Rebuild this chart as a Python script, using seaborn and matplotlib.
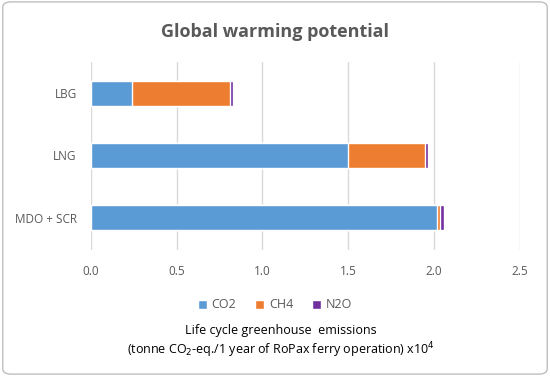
import numpy as np
import pandas as pd
import matplotlib.pyplot as plt
import seaborn as sns
from matplotlib.patches import FancyBboxPatch

# values in tonne CO2-eq (x10^4) per year
fuels = ["LBG", "LNG", "MDO + SCR"]
co2 = [0.24, 1.50, 2.02]
ch4 = [0.57, 0.45, 0.015]
n2o = [0.017, 0.017, 0.025]
gases = ["CO2", "CH4", "N2O"]
colors = ["#5B9BD5", "#ED7D31", "#7030A0"]
xticks = [0.0, 0.5, 1.0, 1.5, 2.0, 2.5]

sns.set_theme(style="white")
plt.rcParams["font.family"] = ["Open Sans", "DejaVu Sans"]
TXT = "#595959"

df = pd.DataFrame({"fuel": fuels, "CO2": co2, "CH4": ch4, "N2O": n2o})
cum = df[gases].cumsum(axis=1)

fig = plt.figure(figsize=(5.5, 3.76), dpi=100)
ax = fig.add_axes([0.165, 0.335, 0.78, 0.5])

# stacked bars: draw the cumulative totals from the largest down
for g, c in reversed(list(zip(gases, colors))):
    sns.barplot(x=cum[g], y=df["fuel"], color=c, orient="h", width=0.4,
                ax=ax, saturation=1, label=g, order=fuels)

ax.set_xlim(0, 2.5)
ax.set_ylim(2.52, -0.5)
ax.set_xticks(xticks)
ax.set_xticklabels([f"{t:.1f}" for t in xticks], color=TXT, fontsize=8.5)
ax.tick_params(axis="y", colors=TXT, labelsize=8.5, length=0, pad=10)
ax.tick_params(axis="x", length=0, pad=11)
ax.xaxis.grid(True, color="#D9D9D9", lw=1)
ax.set_axisbelow(True)
for s in ax.spines.values():
    s.set_visible(False)
ax.set_ylabel("")
ax.set_xlabel("")

handles, labels = ax.get_legend_handles_labels()
order = [labels.index(g) for g in gases]
ax.legend([handles[i] for i in order], gases, loc="center",
          bbox_to_anchor=(0.5, 1 - 305 / 376), bbox_transform=fig.transFigure,
          ncol=3, frameon=False, fontsize=9,
          handlelength=0.7, handleheight=0.7, columnspacing=1.5,
          handletextpad=0.4, labelcolor=TXT)

fig.text(0.51, 0.122, "Life cycle greenhouse  emissions", ha="center", va="center",
         fontsize=9, color="black")
fig.text(0.51, 0.069, "(tonne CO$_2$-eq./1 year of RoPax ferry operation) x10$^4$",
         ha="center", va="center", fontsize=9, color="black")

fig.text(0.5, 0.915, "Global warming potential", ha="center", va="center",
         fontsize=13, fontweight="bold", color=TXT)

border = FancyBboxPatch((0.005, 0.005), 0.99, 0.99, boxstyle="round,pad=0,rounding_size=0.015",
                        transform=fig.transFigure, fill=False, edgecolor="#BFBFBF", lw=1)
fig.patches.append(border)

fig.savefig("out.png", dpi=100)
